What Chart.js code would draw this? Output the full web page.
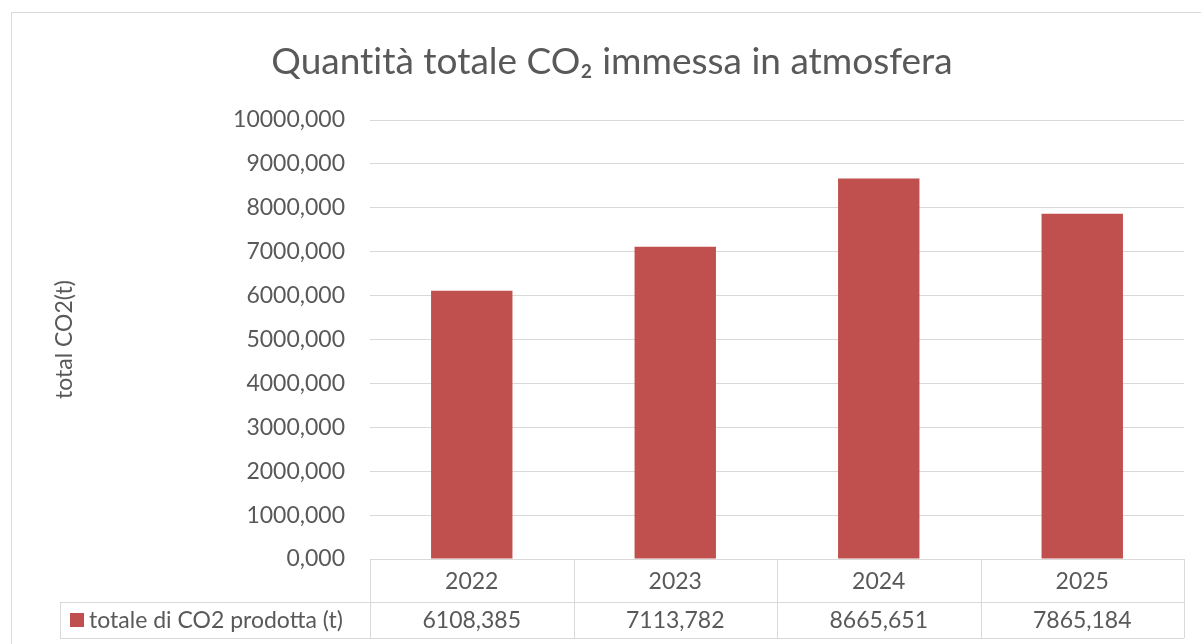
<!DOCTYPE html>
<html>
<head>
<meta charset="utf-8">
<script src="https://cdn.jsdelivr.net/npm/chart.js@4"></script>
<style>
  body { margin: 0; background: #fff; }
  #wrap { width: 1201px; height: 644px; }
</style>
</head>
<body>
<div id="wrap"><canvas id="co2Chart"></canvas></div>
<script>
const years = ['2022', '2023', '2024', '2025'];
const co2Values = [6108.385, 7113.782, 8665.651, 7865.184];
const seriesName = 'totale di CO2 prodotta (t)';
// zero-width non-joiner keeps Lato from merging "ti" into a ligature
const chartTitle = 'Quant\u200Cit\u200Cà totale CO₂ immessa in atmosfera';
const axisTitle = 'total CO2(t)';

const FONT = 'Lato, "Open Sans", sans-serif';
const TEXT = '#595959';
const LINE = '#d9d9d9';
const RED = '#c0504d';

const fmt = v => v.toFixed(3).replace('.', ',');

// draws the frame and the data table under the plot
const dataTable = {
  id: 'dataTable',
  afterDraw(chart) {
    const ctx = chart.ctx;
    const x = chart.scales.x;
    const area = chart.chartArea;
    const w = (area.right - area.left) / years.length;
    const top = area.bottom, mid = top + 43, bot = mid + 36;
    const legendLeft = 60;

    ctx.save();
    ctx.strokeStyle = LINE;
    ctx.lineWidth = 1;
    ctx.strokeRect(11.5, 12.5, 1200, 660);

    ctx.beginPath();
    ctx.moveTo(legendLeft, mid + 0.5); ctx.lineTo(area.right, mid + 0.5);
    ctx.moveTo(legendLeft, bot + 0.5); ctx.lineTo(area.right, bot + 0.5);
    ctx.moveTo(legendLeft + 0.5, mid); ctx.lineTo(legendLeft + 0.5, bot);
    for (let i = 0; i <= years.length; i++) {
      const px = Math.round(area.left + i * w) + 0.5;
      ctx.moveTo(px, top); ctx.lineTo(px, bot);
    }
    ctx.stroke();

    ctx.font = '23px ' + FONT;
    ctx.fillStyle = TEXT;
    ctx.textAlign = 'center';
    ctx.textBaseline = 'middle';
    years.forEach((y, i) => {
      const cx = x.getPixelForValue(i);
      ctx.fillText(y, cx, (top + mid) / 2 + 1);
      ctx.fillText(fmt(co2Values[i]), cx, (mid + bot) / 2 + 1);
    });

    ctx.fillStyle = RED;
    ctx.fillRect(legendLeft + 10, mid + 11, 14, 14);
    ctx.fillStyle = TEXT;
    ctx.textAlign = 'left';
    ctx.fillText(seriesName, legendLeft + 29, (mid + bot) / 2 + 1);
    ctx.restore();
  }
};

new Chart(document.getElementById('co2Chart'), {
  type: 'bar',
  data: {
    labels: years,
    datasets: [{
      label: seriesName,
      data: co2Values,
      backgroundColor: RED,
      categoryPercentage: 1,
      barPercentage: 0.4
    }]
  },
  options: {
    responsive: true,
    maintainAspectRatio: false,
    animation: false,
    layout: { padding: { left: 40, right: 17, top: 0, bottom: 85 } },
    plugins: {
      legend: { display: false },
      tooltip: { enabled: false },
      title: {
        display: true,
        text: chartTitle,
        color: TEXT,
        font: { family: FONT, size: 37, weight: 'normal', lineHeight: 1.2 },
        padding: { top: 40, bottom: 35.6 }
      }
    },
    scales: {
      x: { display: false },
      y: {
        min: 0,
        max: 10000,
        afterFit: s => { s.width = 330; },
        border: { display: false },
        grid: { color: LINE, lineWidth: 1, drawTicks: false },
        ticks: {
          stepSize: 1000,
          padding: 25,
          color: TEXT,
          font: { family: FONT, size: 23 },
          callback: v => fmt(v)
        },
        title: {
          display: true,
          text: axisTitle,
          color: TEXT,
          font: { family: FONT, size: 23 },
          padding: { top: 11, bottom: 0 }
        }
      }
    }
  },
  plugins: [dataTable]
});
</script>
</body>
</html>
